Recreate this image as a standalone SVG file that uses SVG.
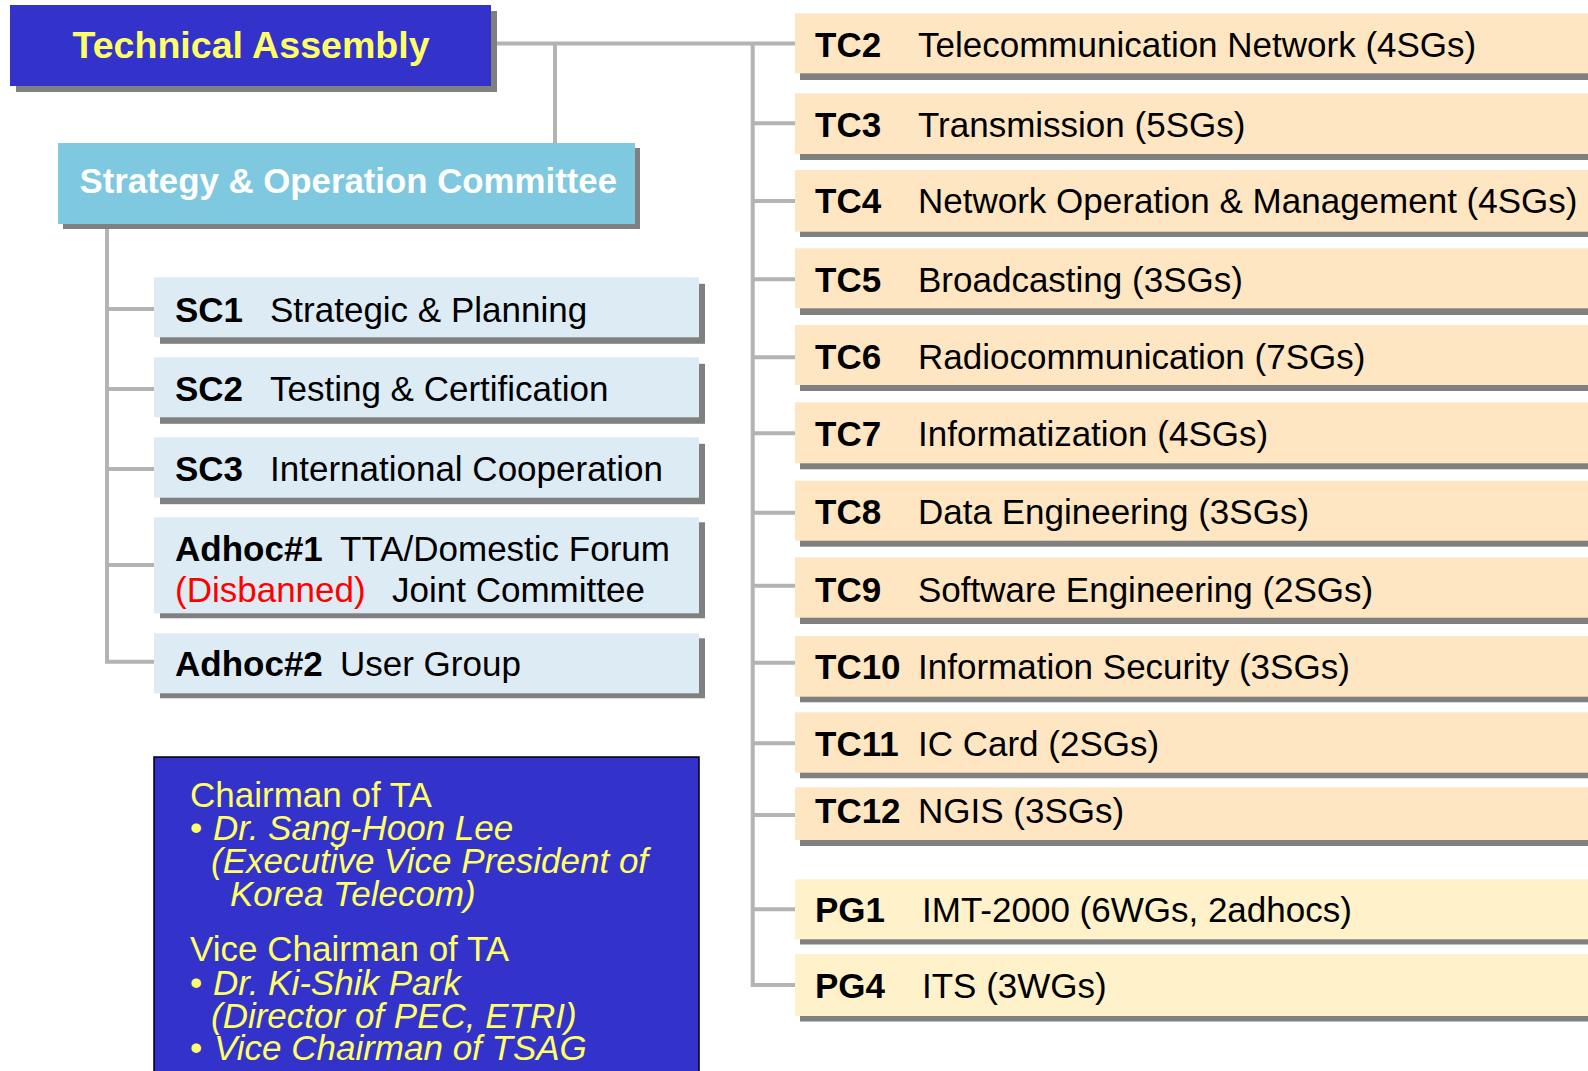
<svg xmlns="http://www.w3.org/2000/svg" width="1588" height="1071" viewBox="0 0 1588 1071">
<style>
text{font-family:"Liberation Sans",Arial,Helvetica,sans-serif;font-size:35px;fill:#000}
.b{font-weight:bold}
.sh{fill:#808080}
.tc{fill:#FFE6C3}
.pg{fill:#FFF1C9}
.sc{fill:#DDEBF5}
.conn{stroke:#B3B3B3;stroke-width:4;fill:none}
.y{fill:#FFFF66}
.i{font-style:italic}
</style>
<rect width="1588" height="1071" fill="#FFFFFF"/>
<g id="connectors" class="conn">
<path d="M491 43.5H795"/>
<path d="M555 43.5V143"/>
<path d="M752.7 43.5V985H795"/>
<path d="M752.7 123.3H795M752.7 201H795M752.7 279.3H795M752.7 357.3H795M752.7 433.3H795M752.7 512.7H795M752.7 585.7H795M752.7 662.7H795M752.7 743.3H795M752.7 815H795M752.7 909.3H795"/>
<path d="M107 224V661.7H154"/>
<path d="M107 309H154M107 389H154M107 469H154M107 565H154"/>
</g>
<g id="ta">
<rect class="sh" x="16" y="11" width="481" height="81"/>
<rect x="10" y="5" width="481" height="81" fill="#3333CC"/>
<text class="b y" x="72.5" y="57.5" style="font-size:37.6px">Technical Assembly</text>
</g>
<g id="soc">
<rect class="sh" x="63" y="148" width="577" height="81"/>
<rect x="58" y="143" width="577" height="81" fill="#7EC8E0"/>
<text class="b" x="79.5" y="193" style="fill:#FFFFFF;font-size:34.8px">Strategy &amp; Operation Committee</text>
</g>
<g id="sc1">
<rect class="sh" x="160" y="283.8" width="545" height="60"/>
<rect class="sc" x="154" y="277.3" width="545" height="60"/>
<text x="175" y="321.5"><tspan class="b">SC1</tspan><tspan x="270">Strategic &amp; Planning</tspan></text>
</g>
<g id="sc2">
<rect class="sh" x="160" y="363.8" width="545" height="60"/>
<rect class="sc" x="154" y="357.3" width="545" height="60"/>
<text x="175" y="401"><tspan class="b">SC2</tspan><tspan x="270">Testing &amp; Certification</tspan></text>
</g>
<g id="sc3">
<rect class="sh" x="160" y="443.8" width="545" height="60.4"/>
<rect class="sc" x="154" y="437.3" width="545" height="60.4"/>
<text x="175" y="481"><tspan class="b">SC3</tspan><tspan x="270">International Cooperation</tspan></text>
</g>
<g id="adhoc1">
<rect class="sh" x="160" y="522.3" width="545" height="96"/>
<rect class="sc" x="154" y="517.3" width="545" height="96"/>
<text x="175" y="561"><tspan class="b">Adhoc#1</tspan><tspan x="340">TTA/Domestic Forum</tspan></text>
<text x="175" y="601.7"><tspan style="fill:#FF0000">(Disbanned)</tspan><tspan x="392">Joint Committee</tspan></text>
</g>
<g id="adhoc2">
<rect class="sh" x="160" y="638.3" width="545" height="60"/>
<rect class="sc" x="154" y="633.3" width="545" height="60"/>
<text x="175" y="675.5"><tspan class="b">Adhoc#2</tspan><tspan x="340">User Group</tspan></text>
</g>
<g id="info">
<rect x="154" y="757" width="545" height="330" fill="#3333CC" stroke="#000000" stroke-width="1.5"/>
<text class="y" x="190" y="807">Chairman of TA</text>
<text class="y" x="190" y="840">•<tspan class="i" x="213">Dr. Sang-Hoon Lee</tspan></text>
<text class="y i" x="211" y="873">(Executive Vice President of</text>
<text class="y i" x="230" y="906">Korea Telecom)</text>
<text class="y" x="190" y="961">Vice Chairman of TA</text>
<text class="y" x="190" y="994.5">•<tspan class="i" x="213">Dr. Ki-Shik Park</tspan></text>
<text class="y i" x="211" y="1027.5">(Director of PEC, ETRI)</text>
<text class="y" x="190" y="1060">•<tspan class="i" x="214">Vice Chairman of TSAG</tspan></text>
</g>
<g id="tc2">
<rect class="sh" x="800" y="19.5" width="800" height="60.5"/>
<rect class="tc" x="795" y="13.3" width="800" height="60"/>
<text x="815" y="57.3"><tspan class="b">TC2</tspan><tspan x="918">Telecommunication Network (4SGs)</tspan></text>
</g>
<g id="tc3">
<rect class="sh" x="800" y="99.5" width="800" height="60.5"/>
<rect class="tc" x="795" y="93.3" width="800" height="60.7"/>
<text x="815" y="136.7"><tspan class="b">TC3</tspan><tspan x="918">Transmission (5SGs)</tspan></text>
</g>
<g id="tc4">
<rect class="sh" x="800" y="176" width="800" height="61"/>
<rect class="tc" x="795" y="170" width="800" height="61.7"/>
<text x="815" y="213.3"><tspan class="b">TC4</tspan><tspan x="918">Network Operation &amp; Management (4SGs)</tspan></text>
</g>
<g id="tc5">
<rect class="sh" x="800" y="254.5" width="800" height="60.5"/>
<rect class="tc" x="795" y="248.3" width="800" height="60"/>
<text x="815" y="292.3"><tspan class="b">TC5</tspan><tspan x="918">Broadcasting (3SGs)</tspan></text>
</g>
<g id="tc6">
<rect class="sh" x="800" y="331" width="800" height="60"/>
<rect class="tc" x="795" y="325" width="800" height="60"/>
<text x="815" y="368.5"><tspan class="b">TC6</tspan><tspan x="918">Radiocommunication (7SGs)</tspan></text>
</g>
<g id="tc7">
<rect class="sh" x="800" y="408.3" width="800" height="61"/>
<rect class="tc" x="795" y="402.3" width="800" height="61"/>
<text x="815" y="446"><tspan class="b">TC7</tspan><tspan x="918">Informatization (4SGs)</tspan></text>
</g>
<g id="tc8">
<rect class="sh" x="800" y="486.7" width="800" height="60"/>
<rect class="tc" x="795" y="480.7" width="800" height="60"/>
<text x="815" y="524"><tspan class="b">TC8</tspan><tspan x="918">Data Engineering (3SGs)</tspan></text>
</g>
<g id="tc9">
<rect class="sh" x="800" y="563.5" width="800" height="60.5"/>
<rect class="tc" x="795" y="557.3" width="800" height="60.4"/>
<text x="815" y="601.7"><tspan class="b">TC9</tspan><tspan x="918">Software Engineering (2SGs)</tspan></text>
</g>
<g id="tc10">
<rect class="sh" x="800" y="642" width="800" height="60.3"/>
<rect class="tc" x="795" y="636" width="800" height="60.7"/>
<text x="815" y="679.3"><tspan class="b">TC10</tspan><tspan x="918">Information Security (3SGs)</tspan></text>
</g>
<g id="tc11">
<rect class="sh" x="800" y="718" width="800" height="60.3"/>
<rect class="tc" x="795" y="712.3" width="800" height="60.4"/>
<text x="815" y="756"><tspan class="b">TC11</tspan><tspan x="918">IC Card (2SGs)</tspan></text>
</g>
<g id="tc12">
<rect class="sh" x="800" y="793.3" width="800" height="52.7"/>
<rect class="tc" x="795" y="787.3" width="800" height="52.7"/>
<text x="815" y="823.3"><tspan class="b">TC12</tspan><tspan x="918">NGIS (3SGs)</tspan></text>
</g>
<g id="pg1">
<rect class="sh" x="800" y="884.5" width="800" height="60"/>
<rect class="pg" x="795" y="879.3" width="800" height="60"/>
<text x="815" y="921.7"><tspan class="b">PG1</tspan><tspan x="922">IMT-2000 (6WGs, 2adhocs)</tspan></text>
</g>
<g id="pg4">
<rect class="sh" x="800" y="960" width="800" height="61.5"/>
<rect class="pg" x="795" y="954" width="800" height="62"/>
<text x="815" y="997.5"><tspan class="b">PG4</tspan><tspan x="922">ITS (3WGs)</tspan></text>
</g>
</svg>
